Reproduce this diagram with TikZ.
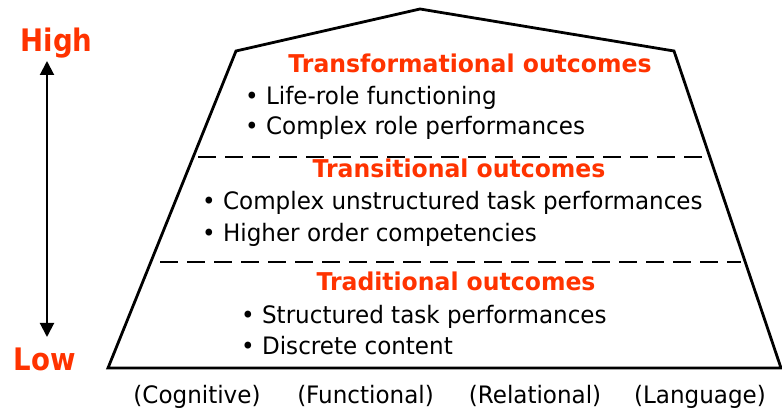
\documentclass[tikz,border=0pt]{standalone}
\usepackage{fontspec}
\setmainfont{DejaVu Sans}[FakeStretch=0.96]
\newfontfamily\levelfont{DejaVu Sans}[FakeStretch=0.89]
\usetikzlibrary{arrows.meta}
\definecolor{outred}{RGB}{255,51,0}

\begin{document}
\begin{tikzpicture}[x=1pt,y=-1pt,
    heading/.style={text=outred, font=\fontsize{24.5}{28}\selectfont\bfseries, inner sep=0pt, anchor=base},
    item/.style={font=\fontsize{24}{28}\selectfont, inner sep=0pt, anchor=base west},
    level/.style={text=outred, font=\levelfont\fontsize{31}{34}\selectfont\bfseries, inner sep=0pt, anchor=base},
    domainlabel/.style={font=\fontsize{24}{28}\selectfont, inner sep=0pt, anchor=base},
    divider/.style={line width=2.4pt, dash pattern=on 18pt off 9pt}]
    \useasboundingbox (0,0) rectangle (782,411);

    % the outline of the pyramid
    \draw[line width=2.8pt, line join=miter] (108,368) -- (236,51) -- (420,9) -- (674,51) -- (781,368) -- cycle;

    % the dashed dividers
    \coordinate (d1l) at (198,157);
    \coordinate (d1r) at (705,157);
    \coordinate (d2l) at (160,262);
    \coordinate (d2r) at (741,262);
    \draw[divider] (d1l) -- (d1r);
    \draw[divider] (d2l) -- (d2r);

    % top level
    \node[heading] (trf) at (470,73) {Transformational outcomes};
    \node[item] (trf1) at (245,105) {• Life-role functioning};
    \node[item] (trf2) at (245,135) {• Complex role performances};

    % middle level
    \node[heading] (trs) at (459,178) {Transitional outcomes};
    \node[item] (trs1) at (202,210) {• Complex unstructured task performances};
    \node[item] (trs2) at (202,242) {• Higher order competencies};

    % bottom level
    \node[heading] (trd) at (456,291) {Traditional outcomes};
    \node[item] (trd1) at (241,324) {• Structured task performances};
    \node[item] (trd2) at (241,355) {• Discrete content};

    % the scale on the left
    \node[level] (high) at (56.5,52) {High};
    \node[level] (low) at (44.5,371) {Low};
    \coordinate (up) at (47,61);
    \coordinate (down) at (47,337);
    \draw[line width=2pt, {Triangle[length=14pt,width=14pt]}-{Triangle[length=14pt,width=14pt]}] (up) -- (down);

    % the domains below
    \node[domainlabel] (cog) at (197,404) {(Cognitive)};
    \node[domainlabel] (fun) at (365.5,404) {(Functional)};
    \node[domainlabel] (rel) at (535,404) {(Relational)};
    \node[domainlabel] (lan) at (700,404) {(Language)};

\end{tikzpicture}
\end{document}
